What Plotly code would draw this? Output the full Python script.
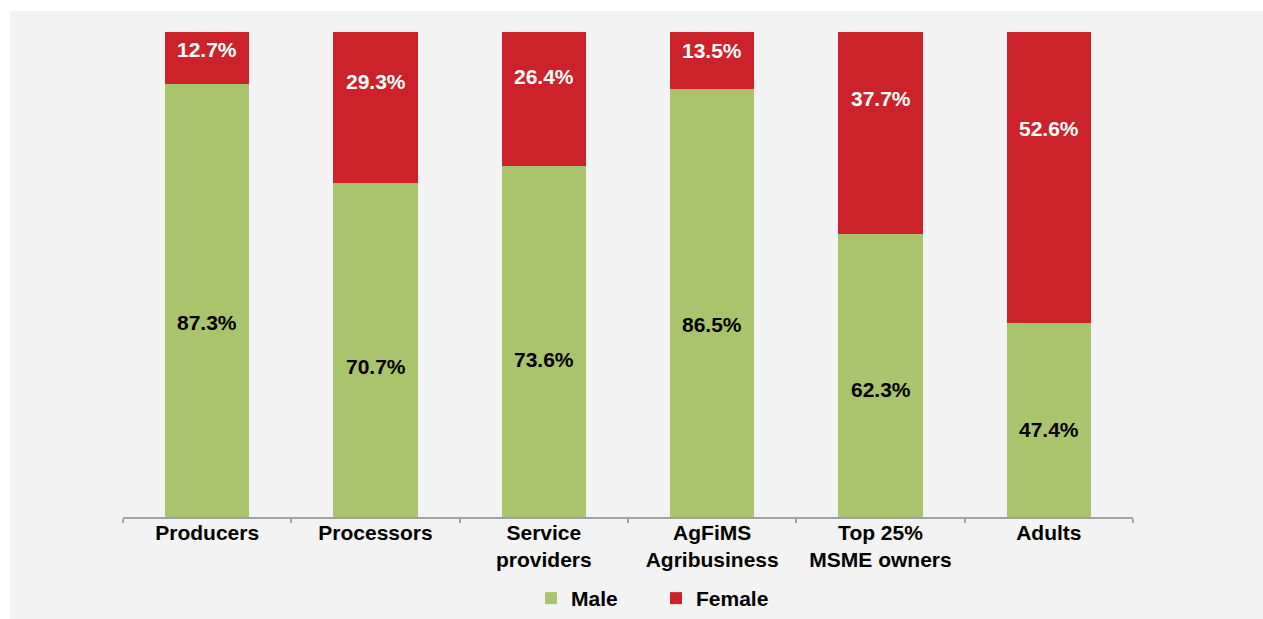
import plotly.graph_objects as go

# Share of men and women by group (%)
categories = ["Producers", "Processors", "Service<br>providers",
              "AgFiMS<br>Agribusiness", "Top 25%<br>MSME owners", "Adults"]
male = [87.3, 70.7, 73.6, 86.5, 62.3, 47.4]
female = [12.7, 29.3, 26.4, 13.5, 37.7, 52.6]

GREEN = "#a9c46c"
RED = "#cc2229"
PANEL = "#f2f3f2"
AXIS_GREY = "#a3a3a3"
FONT = "Liberation Sans, Arial, Helvetica, sans-serif"

# Value axis window (stacked bars run 0-100 and are cut at both ends)
Y_MIN, Y_MAX = 15, 96
W, H = 1263, 619
ML, MR, MT, MB = 123, 130, 32, 102

fig = go.Figure()
fig.add_trace(go.Bar(name="Male", x=categories, y=male, marker_color=GREEN,
                     marker_line_width=0, hoverinfo="skip"))
fig.add_trace(go.Bar(name="Female", x=categories, y=female, marker_color=RED,
                     marker_line_width=0, hoverinfo="skip"))

# Value labels placed inside the visible part of each segment:
# female a third of the way down, male just past the middle
annotations = []
for cat, m, f in zip(categories, male, female):
    top = min(Y_MAX, m + f)
    annotations.append(dict(x=cat, y=m - (m - Y_MIN) * 0.55, text=f"{m:.1f}%",
                            showarrow=False, xref="x", yref="y",
                            font=dict(family=FONT, size=21, color="#000000", weight="bold")))
    annotations.append(dict(x=cat, y=top - (top - m) * 0.33, text=f"{f:.1f}%",
                            showarrow=False, xref="x", yref="y",
                            font=dict(family=FONT, size=21, color="#ffffff", weight="bold")))

plot_w = W - ML - MR
plot_h = H - MT - MB
panel = dict(type="rect", xref="paper", yref="paper", layer="below",
             x0=(10 - ML) / plot_w, x1=(W - ML) / plot_w,
             y0=(plot_h + MT - H) / plot_h, y1=(plot_h + MT - 11) / plot_h,
             fillcolor=PANEL, line_width=0)

fig.update_layout(
    width=W, height=H,
    margin=dict(l=ML, r=MR, t=MT, b=MB, pad=0, autoexpand=False),
    barmode="stack", bargap=0.5,
    paper_bgcolor="#ffffff", plot_bgcolor="rgba(0,0,0,0)",
    font=dict(family=FONT, size=21, color="#000000"),
    shapes=[panel],
    annotations=annotations,
    showlegend=True,
    legend=dict(orientation="h", xref="paper", x=(531 - ML) / plot_w, xanchor="left",
                yref="container", y=(H - 578) / H, yanchor="top",
                bgcolor="rgba(0,0,0,0)",
                font=dict(family=FONT, size=21, color="#000000", weight="bold"),
                itemwidth=30, entrywidth=80, traceorder="normal"),
    xaxis=dict(type="category", showgrid=False, zeroline=False,
               showline=True, linecolor=AXIS_GREY, linewidth=1.5,
               ticks="outside", tickson="boundaries", ticklen=4,
               tickcolor=AXIS_GREY, tickwidth=1.5, ticklabelstandoff=-4,
               tickfont=dict(family=FONT, size=21, color="#000000", weight="bold"),
               automargin=False, fixedrange=True),
    yaxis=dict(range=[Y_MIN, Y_MAX], visible=False, showgrid=False,
               zeroline=False, automargin=False, fixedrange=True),
)

fig.write_html("out.html", config={"displayModeBar": False})
